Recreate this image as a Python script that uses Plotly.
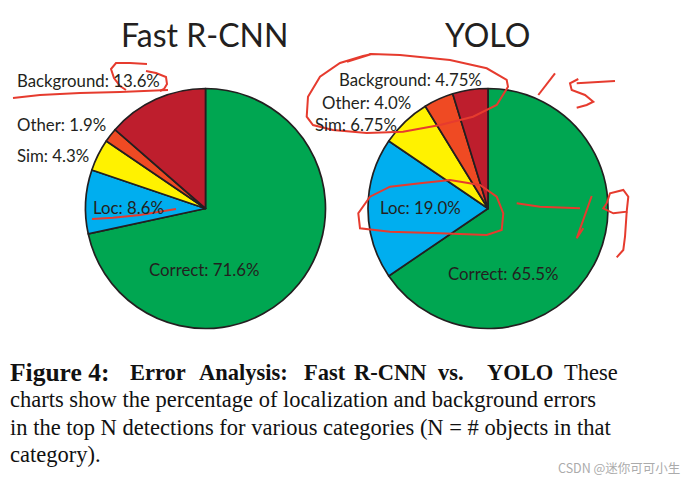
import plotly.graph_objects as go

# ---------------- data ----------------
categories = ["Correct", "Loc", "Sim", "Other", "Background"]
frcnn_values = [71.6, 8.6, 4.3, 1.9, 13.6]
yolo_values = [65.5, 19.0, 6.75, 4.0, 4.75]
chart_titles = ["Fast R-CNN", "YOLO"]
slice_colors = ["#00A651", "#00AEEF", "#FFF200", "#EF4A23", "#BE1E2D"]

# the page body has an 8px margin; work in window pixel coordinates
OFF = 8
W, H = 691 - OFF, 482 - OFF
def px(x):
    return (x - OFF) / W
def py(y):
    return 1 - (y - OFF) / H

fig = go.Figure()

# pie domains in window pixels (left, right, top, bottom)
domains = [(85.5, 325.5, 88.5, 328.5), (368, 608, 88.5, 328.5)]
for vals, (l, r, t, b) in zip([frcnn_values, yolo_values], domains):
    fig.add_trace(go.Pie(
        labels=categories, values=vals, sort=False, direction="clockwise",
        rotation=0, textinfo="none", hoverinfo="label+value",
        marker=dict(colors=slice_colors, line=dict(color="#231f20", width=1.7)),
        domain=dict(x=[px(l), px(r)], y=[py(b), py(t)]),
        showlegend=False,
    ))

annotations = []
label_font = dict(family="Lato", size=16.8, color="#231f20")
# titles
for title, cx in zip(chart_titles, [204.5, 487.5]):
    annotations.append(dict(text=title, x=px(cx), y=py(35), xref="paper", yref="paper",
                            showarrow=False, xanchor="center", yanchor="middle",
                            font=dict(family="Lato", size=32, color="#231f20")))

# slice labels: (x, y, xanchor) per category
frcnn_pos = [(203.5, 269, "center"), (91, 208, "left"), (15, 155, "left"),
             (15, 125, "left"), (15, 80, "left")]
yolo_pos = [(503.5, 273, "center"), (378, 208, "left"), (313, 125, "left"),
            (320, 102, "left"), (337, 79, "left")]
for vals, pos in [(frcnn_values, frcnn_pos), (yolo_values, yolo_pos)]:
    for cat, v, (x, y, xa) in zip(categories, vals, pos):
        annotations.append(dict(text=f"{cat}: {v}%", x=px(x), y=py(y), xref="paper", yref="paper",
                                showarrow=False, xanchor=xa, yanchor="middle", font=label_font))

# caption
cap_font = dict(family="Liberation Serif", size=22.5, color="#111111")
line1_parts = [("<b><span style='font-size:25.5px'>Figure 4:</span></b>", 8),
               ("<b>Error</b>", 128),
               ("<b>Analysis:</b>", 197),
               ("<b>Fast</b>", 302),
               ("<b>R-CNN</b>", 352),
               ("<b>vs.</b>", 436),
               ("<b>YOLO</b>", 485),
               ("These", 562)]
for txt, x in line1_parts:
    annotations.append(dict(text=txt, x=px(x), y=py(372), xref="paper", yref="paper",
                            showarrow=False, xanchor="left", yanchor="middle", font=cap_font))
caption_lines = [
    "charts show the percentage of localization and background errors",
    "in the top N detections for various categories (N = # objects in that",
    "category).",
]
for i, line in enumerate(caption_lines):
    annotations.append(dict(text=line, x=px(8), y=py(399.5 + 27.5 * i), xref="paper", yref="paper",
                            showarrow=False, xanchor="left", yanchor="middle", font=cap_font))

annotations.append(dict(text="CSDN @迷你可可小生", x=px(682), y=py(467), xref="paper", yref="paper",
                        showarrow=False, xanchor="right", yanchor="middle",
                        font=dict(family="Noto Sans CJK SC", size=12.5, color="#ababab")))

# red hand-drawn marks (window pixel coordinates)
strokes = [
    [(13, 98), (40, 95), (80, 93), (120, 92), (168, 90)],
    [(147, 64), (130, 63), (116, 63), (111, 69), (114, 78), (120, 86), (126, 90)],
    [(146, 71), (156, 73), (166, 77), (167, 84), (164, 89), (160, 91)],
    [(92, 219), (113, 217.7), (140, 215), (176, 209)],
    [(347, 61.7), (371.7, 54), (400, 55), (450, 60), (486.7, 68.3), (506.7, 80), (508, 86.7),
     (496.7, 105), (473, 116.7), (440, 125), (403, 131.7), (366.7, 133), (333, 130), (313, 125),
     (306.7, 116.7), (308, 96.7), (320, 76.7), (340, 63), (363, 56), (372, 54)],
    [(420, 183.3), (450, 180), (480, 185), (496.7, 196.7), (503.3, 213.3), (501.7, 230), (486.7, 235),
     (440, 233.3), (390, 231.7), (360, 228.3), (358.3, 213.3), (370, 196.7), (390, 186.7), (420, 183.3)],
    [(555, 73.3), (538.3, 95)],
    [(578.3, 79), (570, 83.3), (571.7, 90), (585, 95), (593.3, 101.7), (586.7, 105), (576.7, 107.7)],
    [(576.7, 83.3), (615, 81)],
    [(516.7, 203.3), (540, 206.7), (580, 208.3)],
    [(591.7, 196), (576.7, 238.3), (583.3, 228.3)],
    [(606.7, 203.3), (610, 193.3), (623.3, 190), (628.3, 196.7), (626.7, 211.7), (613.3, 213.3),
     (603.3, 208.3), (606.7, 203.3)],
    [(626.7, 211.7), (625, 236.7), (623.3, 250), (616.7, 257.3)],
]
shapes = []
for s in strokes:
    path = "M " + " L ".join(f"{px(x):.5f},{py(y):.5f}" for x, y in s)
    shapes.append(dict(type="path", path=path, xref="paper", yref="paper",
                       line=dict(color="#E63B2E", width=2)))

fig.update_layout(width=W, height=H, margin=dict(l=0, r=0, t=0, b=0),
                  paper_bgcolor="white", plot_bgcolor="white",
                  annotations=annotations, shapes=shapes)

fig.write_html("out.html")
